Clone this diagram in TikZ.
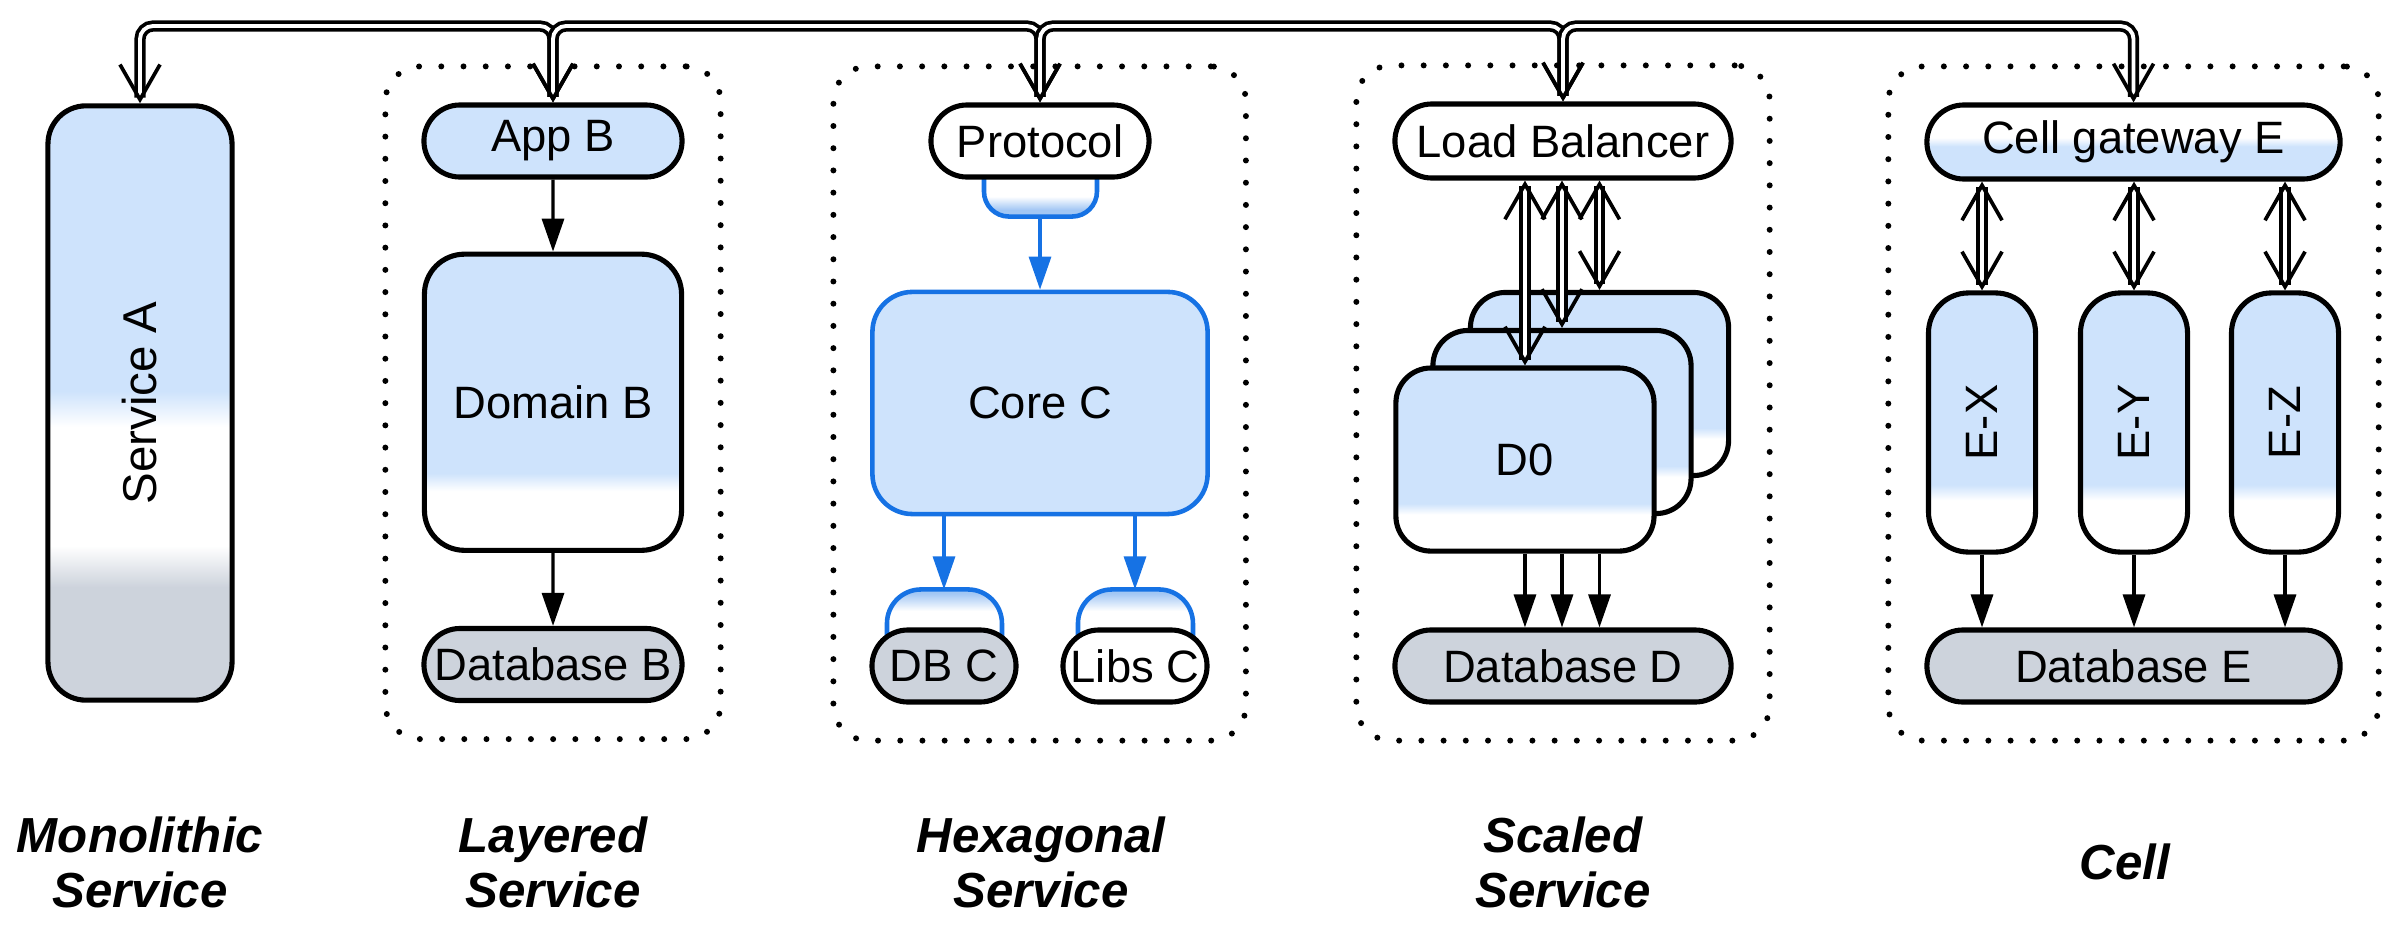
\documentclass[tikz,border=0pt]{standalone}
\usepackage{fontspec}
\setmainfont{Liberation Sans}
\usepackage{tikz}
\usetikzlibrary{positioning,arrows.meta,shapes.misc,fit,backgrounds}

\definecolor{lightblue}{RGB}{206,227,252}
\definecolor{dbgray}{RGB}{205,211,220}
\definecolor{hexblue}{RGB}{22,114,228}

% vertical fills: 0bp is the bottom, the box itself spans 25bp--75bp
\pgfdeclareverticalshading{svcfade}{100bp}{color(0bp)=(dbgray); color(34.5bp)=(dbgray); color(38bp)=(white); color(48bp)=(white); color(51bp)=(lightblue); color(100bp)=(lightblue)}
\pgfdeclareverticalshading{lowfade}{100bp}{color(0bp)=(white); color(35bp)=(white); color(38bp)=(lightblue); color(100bp)=(lightblue)}
\pgfdeclareverticalshading{gwfade}{100bp}{color(0bp)=(lightblue); color(47bp)=(lightblue); color(53bp)=(white); color(100bp)=(white)}
\pgfdeclareverticalshading{sockfade}{100bp}{color(0bp)=(hexblue!40!white); color(33bp)=(hexblue!40!white); color(49bp)=(white); color(100bp)=(white)}
\pgfdeclareverticalshading{capfade}{100bp}{color(0bp)=(white); color(58bp)=(white); color(72bp)=(hexblue!40!white); color(100bp)=(hexblue!40!white)}

\begin{document}
\begin{tikzpicture}[x=0.01cm, y=-0.01cm,
    font=\fontsize{12.9}{15}\selectfont,
    base/.style={draw, line width=1.45pt, inner sep=0pt, align=center},
    box/.style={base, rounded corners=0.4cm},
    dbox/.style={base, rounded corners=0.35cm, shading=lowfade, minimum width=2.58cm, minimum height=1.83cm},
    pill/.style={base, rounded rectangle, minimum height=0.72cm},
    frame/.style={draw, line width=1.7pt, line cap=round, dash pattern=on 0pt off 0.222cm, rounded corners=0.35cm, inner sep=0.36cm},
    socket/.style={draw=hexblue, line width=1.3pt, shading=sockfade, rounded corners=0.25cm},
    portcap/.style={draw=hexblue, line width=1.3pt, shading=capfade, rounded corners=0.34cm},
    arr/.style={-{Triangle[length=0.33cm, width=0.22cm]}, line width=0.9pt},
    harr/.style={arr, hexblue},
    dlink/.style={double, double distance=1.1pt, line width=1.05pt,
        {Straight Barb[length=0.35cm, width=0.4cm]}-{Straight Barb[length=0.35cm, width=0.4cm]}},
    bus/.style={dlink, rounded corners=0.13cm},
    lbl/.style={font=\fontsize{14}{15.6}\selectfont\bfseries\itshape, align=center},
]
\useasboundingbox (0,0) rectangle (2391,924);

% --- Monolithic ---
\node[box, shading=svcfade, minimum width=1.84cm, minimum height=5.94cm, rounded corners=0.38cm] (svc_a) at (140,403) {\fontsize{13.5}{16}\selectfont\rotatebox{90}{Service A}};

% --- Layered ---
\node[pill, fill=lightblue, minimum width=2.58cm] (app_b) at (553,141) {App B};
\node[box, shading=lowfade, minimum width=2.57cm, minimum height=2.96cm, below=0.72cm of app_b] (dom_b) {Domain B};
\node[pill, fill=dbgray, minimum width=2.58cm, below=0.73cm of dom_b] (db_b) {Database B};

% --- Hexagonal ---
\node[pill, fill=white, minimum width=2.18cm] (proto) at (1040,141) {Protocol};
\node[box, draw=hexblue, line width=1.3pt, fill=lightblue, minimum width=3.35cm, minimum height=2.22cm, below=1.10cm of proto] (core_c) {Core C};
\node[pill, fill=dbgray, minimum width=1.44cm] (db_c) at (944,666) {DB C};
\node[pill, fill=white, minimum width=1.44cm] (libs_c) at (1135,666) {Libs C};

% --- Scaled ---
\node[pill, fill=white, minimum width=3.36cm, minimum height=0.74cm] (lb) at (1563,141) {Load Balancer};
\node[dbox] (d_back) at (1599.5,384) {};
\node[dbox] (d_mid) at ([xshift=-0.375cm, yshift=-0.38cm]d_back) {};
\node[dbox] (d_zero) at ([xshift=-0.37cm, yshift=-0.375cm]d_mid) {D0};
\node[pill, fill=dbgray, minimum width=3.36cm] (db_d) at (1563,666) {Database D};

% --- Cell ---
\node[pill, shading=gwfade, minimum width=4.13cm, minimum height=0.74cm] (gw_e) at (2133.5,142) {Cell gateway E};
\node[box, shading=lowfade, minimum width=1.07cm, minimum height=2.59cm] (e_x) at (1982,422.5) {\rotatebox{90}{E-X}};
\node[box, shading=lowfade, minimum width=1.07cm, minimum height=2.59cm] (e_y) at (2134,422.5) {\rotatebox{90}{E-Y}};
\node[box, shading=lowfade, minimum width=1.07cm, minimum height=2.59cm] (e_z) at (2285,422.5) {\rotatebox{90}{E-Z}};
\node[pill, fill=dbgray, minimum width=4.13cm] (db_e) at (2133.5,666) {Database E};

% Group frames, ports
\begin{scope}[on background layer]
\node[frame, fit=(app_b)(dom_b)(db_b)] (layered_box) {};
\node[frame, fit=(proto)(core_c)(db_c)(libs_c)] (hex_box) {};
\node[frame, fit=(lb)(d_back)(d_zero)(db_d)] (scaled_box) {};
\node[frame, fit=(gw_e)(e_x)(e_z)(db_e)] (cell_box) {};
\draw[socket] ([xshift=-0.56cm, yshift=0.05cm]proto.south) -- ++(0,42) -- ++(113,0) -- ++(0,-42);
\draw[portcap] ([xshift=-0.57cm, yshift=-0.25cm]db_c.north) -- ++(0,-63) -- ++(115,0) -- ++(0,63);
\draw[portcap] ([xshift=-0.57cm, yshift=-0.25cm]libs_c.north) -- ++(0,-63) -- ++(115,0) -- ++(0,63);
\end{scope}
\coordinate (sock) at ([yshift=-0.37cm]proto.south);
\coordinate (cap_db) at ([yshift=0.38cm]db_c.north);
\coordinate (cap_libs) at ([yshift=0.38cm]libs_c.north);

% --- Arrows ---
\draw[arr] (app_b) -- (dom_b);
\draw[arr] (dom_b) -- (db_b);

\draw[harr] (sock) -- (core_c.north);
\draw[harr] (core_c.south -| cap_db) -- (cap_db);
\draw[harr] (core_c.south -| cap_libs) -- (cap_libs);

\draw[dlink] (d_zero.north |- lb.south) -- (d_zero.north);
\draw[dlink] (d_mid.north |- lb.south) -- (d_mid.north);
\draw[dlink] (d_back.north |- lb.south) -- (d_back.north);
\draw[arr] (d_zero.south) -- (d_zero.south |- db_d.north);
\draw[arr] (d_mid.north |- d_zero.south) -- (d_mid.north |- db_d.north);
\draw[arr] (d_back.north |- d_zero.south) -- (d_back.north |- db_d.north);

\draw[dlink] (e_x |- gw_e.south) -- (e_x);
\draw[dlink] (e_y |- gw_e.south) -- (e_y);
\draw[dlink] (e_z |- gw_e.south) -- (e_z);
\draw[arr] (e_x) -- (e_x |- db_e.north);
\draw[arr] (e_y) -- (e_y |- db_e.north);
\draw[arr] (e_z) -- (e_z |- db_e.north);

% Top bus
\coordinate (bus) at (0,26);
\draw[bus] (svc_a) -- (svc_a |- bus) -| (app_b);
\draw[bus] (app_b) -- (app_b |- bus) -| (proto);
\draw[bus] (proto) -- (proto |- bus) -| (lb);
\draw[bus] (lb) -- (lb |- bus) -| (gw_e);

% --- Style labels ---
\node[lbl] (lbl_mono) at (140,862) {Monolithic\\Service};
\node[lbl] (lbl_layer) at (553,862) {Layered\\Service};
\node[lbl] (lbl_hex) at (1041,862) {Hexagonal\\Service};
\node[lbl] (lbl_scaled) at (1563,862) {Scaled\\Service};
\node[lbl] (lbl_cell) at (2125,862) {Cell};

\end{tikzpicture}
\end{document}
